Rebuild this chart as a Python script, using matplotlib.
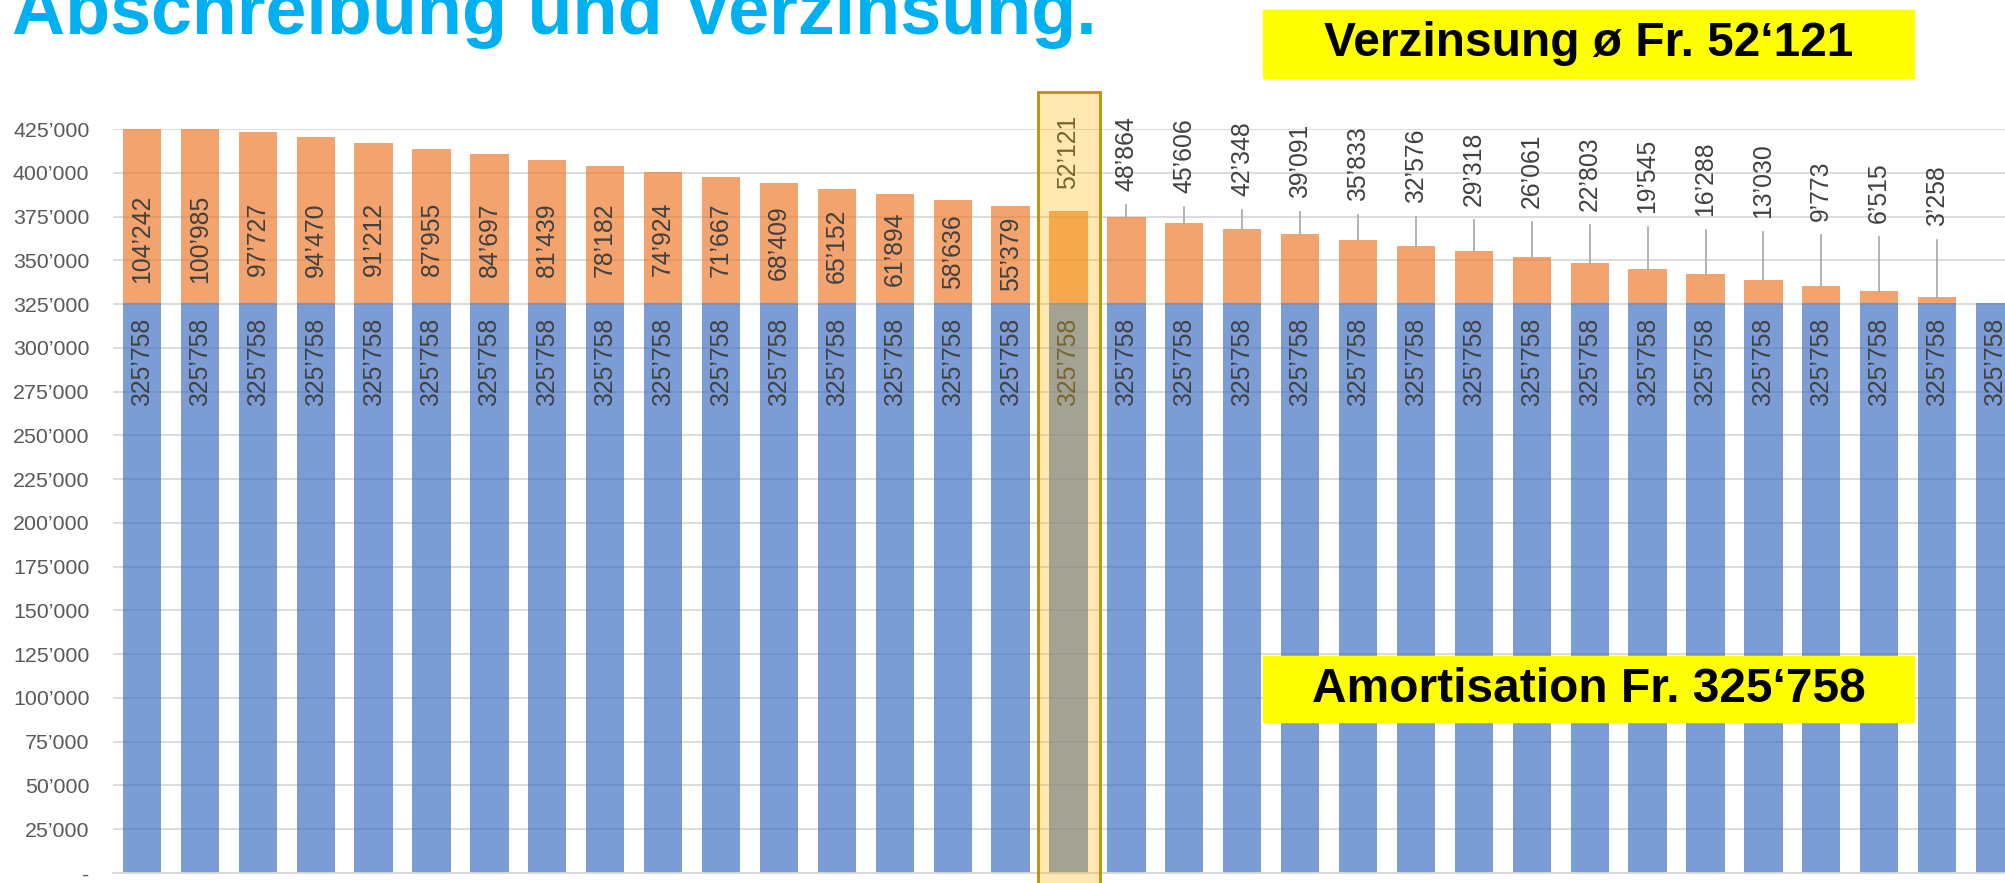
import matplotlib
matplotlib.use("Agg")
import matplotlib.pyplot as plt
from matplotlib.patches import Rectangle

plt.rcParams['font.family'] = ['Liberation Sans', 'DejaVu Sans']

# Daten
jahre = list(range(1, 34))
amortisation = [325758] * 33
verzinsung = [104242, 100985, 97727, 94470, 91212, 87955, 84697, 81439, 78182,
              74924, 71667, 68409, 65152, 61894, 58636, 55379, 52121, 48864,
              45606, 42348, 39091, 35833, 32576, 29318, 26061, 22803, 19545,
              16288, 13030, 9773, 6515, 3258, 0]
y_ticks = list(range(0, 425001, 25000))
titel = "Abschreibung und Verzinsung."
text_oben = "Verzinsung ø Fr. 52‘121"
text_unten = "Amortisation Fr. 325‘758"
markiert = 16  # Jahr mit dem Durchschnittszins

BLAU = '#4472C4'
ORANGE = '#ED7D31'
GRAU_TXT = '#404040'


def fmt(v):
    if v == 0:
        return "-"
    return f"{v:,}".replace(",", "’")


def main():
    W, H = 2005, 883
    fig = plt.figure(figsize=(W / 100, H / 100), dpi=100)
    ax = fig.add_axes([113 / W, 10 / H, 1911 / W, 744 / H])

    x = list(range(len(jahre)))
    ax.bar(x, amortisation, width=0.66, color=BLAU, alpha=0.7, zorder=2)
    ax.bar(x, verzinsung, width=0.66, bottom=amortisation, color=ORANGE,
           alpha=0.7, zorder=2)

    ax.set_xlim(-0.5, len(jahre) - 0.5)
    ax.set_ylim(0, 425000)
    ax.set_yticks(y_ticks)
    ax.set_yticklabels([fmt(v) for v in y_ticks])
    ax.tick_params(axis='y', length=0, pad=17, labelsize=15.4,
                   labelcolor='#595959')
    ax.tick_params(axis='x', length=0, labelbottom=False)
    ax.grid(axis='y', color='#D9D9D9', lw=1.3)
    ax.set_axisbelow(True)
    for s in ['top', 'right', 'left']:
        ax.spines[s].set_visible(False)
    ax.spines['bottom'].set_color('#D9D9D9')
    ax.spines['bottom'].set_linewidth(1.3)

    for i, (a, v) in enumerate(zip(amortisation, verzinsung)):
        ax.annotate(fmt(a), (i, a), xytext=(0, -11), textcoords='offset points',
                    rotation=90, ha='center', va='top', fontsize=17.8,
                    color=GRAU_TXT, zorder=3)
        if v > 53000:
            ax.text(i, min(362000, a + v / 2), fmt(v), rotation=90,
                    ha='center', va='center', fontsize=17.8, color=GRAU_TXT,
                    zorder=3)
        elif v > 0:
            lab_y = 391000 - 1410 * (i - markiert)
            ax.text(i, lab_y, fmt(v), rotation=90, ha='center', va='bottom',
                    fontsize=17.8, color=GRAU_TXT, zorder=3, clip_on=False)
            if i != markiert:
                ax.plot([i, i], [a + v, lab_y - 8000], color='#A6A6A6',
                        lw=1.2, zorder=3)

    # Hervorhebung
    ax.add_patch(Rectangle((markiert - 0.53, -8000), 1.07, 454000,
                           facecolor=(1, 0.71, 0, 0.3), edgecolor='#BF9000',
                           lw=2, zorder=5, clip_on=False))

    fig.text(12 / W, 1 - 34 / H, titel, ha='left', va='baseline', fontsize=53,
             fontweight='bold', color='#00B0F0')

    fig.patches.append(Rectangle((1263 / W, 1 - 78 / H), 651 / W, 68 / H,
                                 transform=fig.transFigure, color='#FFFF00',
                                 zorder=5))
    fig.text((1263 + 651 / 2) / W, 1 - 44 / H, text_oben, ha='center',
             va='center', fontsize=34.5, fontweight='bold', color='black',
             zorder=6)

    fig.patches.append(Rectangle((1263 / W, 1 - 722 / H), 651 / W, 66 / H,
                                 transform=fig.transFigure, color='#FFFF00',
                                 zorder=5))
    fig.text((1263 + 651 / 2) / W, 1 - 689 / H, text_unten, ha='center',
             va='center', fontsize=34.5, fontweight='bold', color='black',
             zorder=6)

    fig.savefig('out.png', dpi=100)


if __name__ == "__main__":
    main()
